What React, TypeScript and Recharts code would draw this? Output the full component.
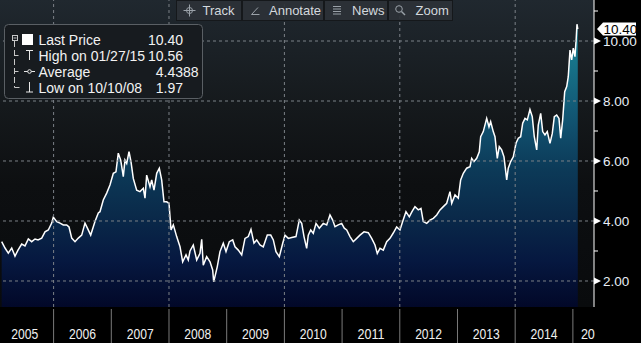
import React from 'react';
import { ComposedChart, Area, XAxis, YAxis, CartesianGrid, ReferenceLine } from 'recharts';

// decimal-year time stamps of the traced price points
const times = [
  2005.100, 2005.158, 2005.215, 2005.274, 2005.331, 2005.383, 2005.447, 2005.504, 2005.562, 2005.620, 2005.678, 2005.730, 2005.794, 2005.851, 2005.908, 2005.967, 2005.995,
  2006.054, 2006.111, 2006.168, 2006.227, 2006.267, 2006.314, 2006.371, 2006.428, 2006.487, 2006.544, 2006.584, 2006.643, 2006.717, 2006.775, 2006.804, 2006.861, 2006.920, 2006.977,
  2007.035, 2007.081, 2007.121, 2007.163, 2007.208, 2007.237, 2007.267, 2007.307, 2007.341, 2007.381, 2007.440, 2007.497, 2007.555, 2007.584, 2007.613, 2007.671, 2007.700, 2007.740, 2007.787, 2007.832, 2007.873, 2007.913, 2007.960,
  2008.000, 2008.035, 2008.075, 2008.133, 2008.191, 2008.237, 2008.295, 2008.334, 2008.364, 2008.421, 2008.480, 2008.537, 2008.567, 2008.594, 2008.653, 2008.711, 2008.757, 2008.775, 2008.837, 2008.884, 2008.941, 2008.988,
  2009.045, 2009.104, 2009.144, 2009.201, 2009.260, 2009.317, 2009.374, 2009.421, 2009.473, 2009.520, 2009.577, 2009.634, 2009.704, 2009.763, 2009.808, 2009.854, 2009.912, 2009.971,
  2010.010, 2010.068, 2010.127, 2010.201, 2010.258, 2010.300, 2010.340, 2010.386, 2010.414, 2010.456, 2010.501, 2010.548, 2010.605, 2010.674, 2010.733, 2010.790, 2010.837, 2010.877, 2010.934, 2010.993,
  2011.038, 2011.080, 2011.137, 2011.194, 2011.253, 2011.310, 2011.380, 2011.454, 2011.513, 2011.570, 2011.610, 2011.657, 2011.714, 2011.773, 2011.830, 2011.887, 2011.946,
  2012.003, 2012.050, 2012.107, 2012.165, 2012.211, 2012.263, 2012.321, 2012.367, 2012.407, 2012.466, 2012.523, 2012.581, 2012.640, 2012.697, 2012.754, 2012.813, 2012.870, 2012.900, 2012.957,
  2013.014, 2013.055, 2013.101, 2013.159, 2013.217, 2013.246, 2013.286, 2013.333, 2013.378, 2013.402, 2013.447, 2013.506, 2013.546, 2013.575, 2013.620, 2013.650, 2013.690, 2013.724, 2013.766, 2013.806, 2013.853, 2013.880, 2013.922, 2013.967,
  2014.014, 2014.054, 2014.095, 2014.130, 2014.170, 2014.210, 2014.256, 2014.296, 2014.331, 2014.373, 2014.400, 2014.442, 2014.477, 2014.516, 2014.556, 2014.603, 2014.643, 2014.678, 2014.719, 2014.759, 2014.789, 2014.823, 2014.858, 2014.893, 2014.920, 2014.950, 2014.979,
  2015.007, 2015.036, 2015.058, 2015.071, 2015.085,
];

const prices = [
  3.31, 3.10, 2.93, 3.10, 2.83, 3.03, 3.23, 3.17, 3.40, 3.31, 3.40, 3.37, 3.43, 3.64, 3.70, 3.93, 4.13,
  3.98, 3.93, 3.87, 3.87, 3.80, 3.43, 3.31, 3.43, 3.53, 3.93, 3.77, 3.53, 3.98, 4.27, 4.31, 4.70, 4.93, 5.20,
  5.59, 5.64, 6.26, 6.03, 5.48, 6.03, 5.92, 6.31, 5.98, 5.42, 5.03, 4.98, 5.09, 4.76, 5.53, 5.14, 5.37, 5.03, 5.59, 5.76, 5.37, 4.64, 4.64,
  4.59, 3.70, 3.87, 3.48, 3.14, 2.64, 2.87, 2.70, 3.00, 3.20, 2.70, 2.92, 3.39, 2.53, 2.81, 2.64, 2.37, 1.97, 2.48, 2.98, 3.26, 2.98,
  3.31, 3.37, 3.14, 3.03, 2.87, 3.42, 3.48, 3.72, 3.26, 3.37, 3.20, 3.14, 3.53, 3.53, 3.37, 2.98, 2.81, 3.26,
  3.53, 3.42, 3.45, 3.48, 4.03, 3.92, 3.48, 3.09, 3.53, 3.70, 3.59, 3.92, 3.76, 3.92, 3.87, 4.20, 4.03, 3.81, 3.87, 3.92,
  3.76, 3.70, 3.48, 3.31, 3.42, 3.53, 3.64, 3.61, 3.42, 3.20, 2.92, 3.09, 3.03, 3.31, 3.42, 3.60, 3.80,
  3.70, 3.98, 4.31, 4.14, 4.31, 4.48, 4.37, 4.42, 3.98, 3.92, 4.03, 4.09, 4.20, 4.37, 4.48, 4.59, 4.98, 4.59, 4.87,
  4.76, 5.37, 5.59, 5.76, 5.81, 6.09, 5.98, 6.09, 6.31, 6.81, 6.98, 7.42, 7.14, 7.31, 6.98, 6.81, 6.09, 6.48, 6.37, 6.14, 5.37, 5.76, 5.98, 6.14,
  6.59, 6.76, 6.81, 7.26, 7.42, 7.37, 7.72, 7.48, 6.81, 6.37, 7.20, 7.59, 6.98, 6.87, 6.98, 6.59, 6.92, 7.48, 7.53, 7.42, 6.76, 7.37, 8.31, 8.48, 8.81, 9.70, 9.37,
  9.76, 9.48, 10.09, 10.56, 10.40,
];

const yearStarts = [2006, 2007, 2008, 2009, 2010, 2011, 2012, 2013, 2014, 2015];
const gridYears = [2006, 2008, 2010, 2012, 2014];
const priceTicks = [2, 3, 4, 5, 6, 7, 8, 9, 10, 11];
const gridPrices = [2, 4, 6, 8, 10];
const lastPrice = 10.4;
const lastPriceLabel = '10.40';
const toolbarItems = ['Track', 'Annotate', 'News', 'Zoom'];
const legendRows = [
  { label: 'Last Price', value: '10.40' },
  { label: 'High on 01/27/15', value: '10.56' },
  { label: 'Average', value: '4.4388' },
  { label: 'Low on 10/10/08', value: '1.97' },
];

const data = times.map((t, i) => ({ t, price: prices[i] }));

const FONT = '"Liberation Sans", Arial, sans-serif';
const HALF_YEAR_PX = 28.85;

const XTick = (props: any) => {
  const { x, y, payload } = props;
  const yr = payload.value;
  return (
    <g>
      <line x1={x} x2={x} y1={y + 2} y2={y + 36} stroke="#7a7a7a" strokeWidth={1} />
      <text x={x - HALF_YEAR_PX} y={y + 32} textAnchor="middle" fill="#f0f0f0" fontSize={14}
        fontFamily={FONT} textLength={27} lengthAdjust="spacingAndGlyphs">{yr - 1}</text>
      {yr === 2015 && (
        <text x={x + 8} y={y + 32} fill="#f0f0f0" fontSize={14} fontFamily={FONT}
          textLength={14} lengthAdjust="spacingAndGlyphs">20</text>
      )}
    </g>
  );
};

const YTick = (props: any) => {
  const { x, y, payload } = props;
  const v = payload.value;
  if (v % 2 !== 0) {
    return <line x1={x} x2={x + 4} y1={y} y2={y} stroke="#ffffff" strokeWidth={1} />;
  }
  return (
    <g>
      <path d={`M${x},${y - 3.5}L${x + 7},${y}L${x},${y + 3.5}Z`} fill="#ffffff" />
      <text x={x + 9} y={y + 5} fill="#e8eef6" fontSize={13.5} fontFamily={FONT}>{v.toFixed(2)}</text>
    </g>
  );
};

const PriceTag = (props: any) => {
  const vb = props.viewBox;
  if (!vb) return null;
  const left = vb.x + vb.width + 3;
  const cy = vb.y;
  return (
    <g>
      <path d={`M${left},${cy}L${left + 6},${cy - 6.5}L${left + 39},${cy - 6.5}L${left + 39},${cy + 6.5}L${left + 6},${cy + 6.5}Z`} fill="#ffffff" />
      <text x={left + 6.5} y={cy + 5} fill="#000" fontSize={13.5} fontFamily={FONT}>{lastPriceLabel}</text>
    </g>
  );
};

const Toolbar = () => {
  const segs = [
    { x: 176, w: 66, tx: 202.5 },
    { x: 242, w: 82, tx: 269 },
    { x: 324, w: 64, tx: 352 },
    { x: 388, w: 65, tx: 415.5 },
  ];
  const ic = '#9aa1a8';
  return (
    <g fontFamily={FONT} fontSize={13}>
      {segs.map((s, i) => (
        <g key={i}>
          <rect x={s.x + 0.5} y={0.5} width={s.w - 1} height={20} fill="#2c3237" fillOpacity={0.93} stroke="#15181b" />
          <text x={s.tx} y={15} fill="#d3d8dd">{toolbarItems[i]}</text>
        </g>
      ))}
      <circle cx={189.5} cy={10.5} r={3} fill="none" stroke={ic} />
      <line x1={183.5} x2={195.5} y1={10.5} y2={10.5} stroke={ic} />
      <line x1={189.5} x2={189.5} y1={4.5} y2={16.5} stroke={ic} />
      <path d="M251.5,14.5 L259.5,14.5 M251.5,14.5 L258,7.5" stroke={ic} fill="none" />
      <path d="M333,6.5h8M333,9h8M333,11.5h8M333,14h8" stroke={ic} fill="none" />
      <circle cx={399} cy={9} r={3.3} fill="none" stroke={ic} />
      <line x1={401.5} x2={405} y1={11.5} y2={15} stroke={ic} strokeWidth={1.4} />
    </g>
  );
};

const Legend = () => {
  const baselines = [45, 60.8, 76.8, 92.6];
  const dec = 163.5;
  const c = '#c8c8c8';
  return (
    <g fontFamily={FONT} fontSize={14}>
      <rect x={4.5} y={24.5} width={198} height={74} rx={4} fill="#171b1f" stroke="#5a5f64" />
      <rect x={12.5} y={35.5} width={5} height={5} fill="none" stroke={c} />
      <line x1={13.5} x2={16.5} y1={38} y2={38} stroke={c} />
      <line x1={14.5} x2={14.5} y1={41} y2={87.5} stroke={c} strokeDasharray="6 3" />
      <line x1={14.5} x2={18.5} y1={55.5} y2={55.5} stroke={c} />
      <line x1={14.5} x2={18.5} y1={71.5} y2={71.5} stroke={c} />
      <line x1={14.5} x2={19.5} y1={87.5} y2={87.5} stroke={c} />
      <rect x={22} y={34} width={11} height={11} fill="#ffffff" />
      <path d="M26,50.5H33M29.5,50.5V60" stroke="#e8e8e8" fill="none" />
      <path d="M24,71.5H35" stroke="#e8e8e8" fill="none" />
      <circle cx={29.5} cy={71.5} r={1.8} fill="#171b1f" stroke="#e8e8e8" />
      <path d="M29.5,82V92M26,92H33" stroke="#e8e8e8" fill="none" />
      {legendRows.map((r, i) => {
        const [ip, fp] = r.value.split('.');
        return (
          <g key={i} fill="#f2f2f2">
            <text x={38.5} y={baselines[i]}>{r.label}</text>
            <text x={dec} y={baselines[i]} textAnchor="end">{ip}</text>
            <text x={dec} y={baselines[i]}>{'.' + fp}</text>
          </g>
        );
      })}
    </g>
  );
};

export default function App() {
  return (
    <div style={{ position: 'absolute', left: 0, top: 0, width: 641, height: 343, background: '#000', overflow: 'hidden' }}>
      <ComposedChart width={641} height={343} data={data} margin={{ top: 0, right: 0, bottom: 0, left: 0 }}
        style={{ fontFamily: FONT }}>
        <defs>
          <linearGradient id="bgGrad" x1="0" y1="0" x2="0" y2="1">
            <stop offset="0" stopColor="#20282f" />
            <stop offset="0.35" stopColor="#15191c" />
            <stop offset="0.6" stopColor="#0d0f11" />
            <stop offset="1" stopColor="#090b0d" />
          </linearGradient>
          <linearGradient id="areaGrad" gradientUnits="userSpaceOnUse" x1="0" y1="0" x2="0" y2="307">
            <stop offset="0" stopColor="#1c8a98" />
            <stop offset="0.2" stopColor="#17748a" />
            <stop offset="0.4" stopColor="#115270" />
            <stop offset="0.55" stopColor="#0c3a58" />
            <stop offset="0.7" stopColor="#0a2a4a" />
            <stop offset="0.85" stopColor="#061840" />
            <stop offset="1" stopColor="#020828" />
          </linearGradient>
        </defs>
        <CartesianGrid horizontal={false} vertical={false} fill="url(#bgGrad)" stroke="none" />
        <XAxis dataKey="t" type="number" domain={[2005.071, 2015.366]} allowDataOverflow ticks={yearStarts}
          interval={0} tickSize={0} tickMargin={0} axisLine={false} tickLine={false} height={36} tick={<XTick />} />
        <YAxis orientation="right" type="number" domain={[1.1333, 11.3667]} allowDataOverflow ticks={priceTicks}
          interval={0} tickSize={0} tickMargin={0} axisLine={{ stroke: '#ffffff', strokeWidth: 1 }} tickLine={false} width={47} tick={<YTick />} />
        <Area type="linear" dataKey="price" stroke="#ffffff" strokeWidth={1.5} fill="url(#areaGrad)" fillOpacity={1}
          dot={false} activeDot={false} isAnimationActive={false} />
        {gridPrices.map((v) => (
          <ReferenceLine key={'h' + v} y={v} stroke="#7b8187" strokeDasharray="3 3" strokeWidth={1} />
        ))}
        {gridYears.map((v) => (
          <ReferenceLine key={'v' + v} x={v} stroke="#7b8187" strokeDasharray="3 3" strokeWidth={1} />
        ))}
        <ReferenceLine y={lastPrice} stroke="none" ifOverflow="visible" label={<PriceTag />} />
      </ComposedChart>
      <svg width={641} height={343} style={{ position: 'absolute', left: 0, top: 0, pointerEvents: 'none' }}>
        <Toolbar />
        <Legend />
      </svg>
    </div>
  );
}
